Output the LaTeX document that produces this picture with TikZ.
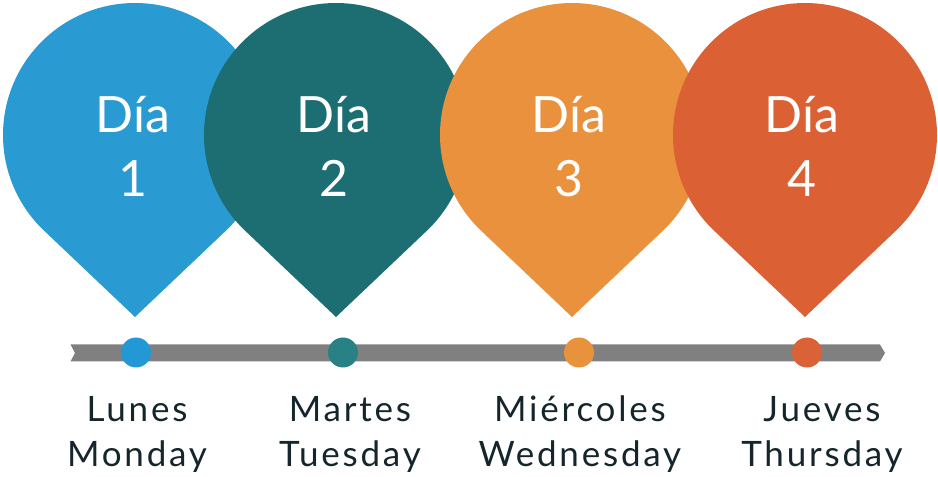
\documentclass[tikz,border=0pt]{standalone}
\usepackage{fontspec}
\setmainfont{Lato}
\newfontfamily\labelfont[LetterSpace=8]{Lato}
\usetikzlibrary{calc}
\definecolor{cblue}{HTML}{2A9AD2}
\definecolor{cteal}{HTML}{1C6E72}
\definecolor{corange}{HTML}{E9913C}
\definecolor{cred}{HTML}{DB6134}
\definecolor{dblue}{HTML}{2298D4}
\definecolor{dteal}{HTML}{288184}
\definecolor{dorange}{HTML}{E9923C}
\definecolor{dred}{HTML}{DA6236}
\definecolor{bargray}{HTML}{808080}
\definecolor{labeltext}{HTML}{15252C}
\tikzset{
  pintext/.style={text=white, font=\fontsize{50}{60}\selectfont, anchor=base, inner sep=0pt},
  daylabel/.style={text=labeltext, font=\labelfont\fontsize{35}{42}\selectfont, anchor=base, inner sep=0pt},
  dot/.style={circle, minimum size=30pt, inner sep=0pt},
}
\newcommand{\pinshape}[2]{%
  \fill[#2] (#1,160) -- ($(#1,342)+(226.5:132)$) arc[start angle=226.5, end angle=-46.5, radius=132] -- cycle;}
\begin{document}
\begin{tikzpicture}[x=1pt,y=1pt]
\useasboundingbox (0,0) rectangle (938,477);
% pins
\pinshape{135}{cblue}
\pinshape{336}{cteal}
\pinshape{572}{corange}
\pinshape{805}{cred}
% pin texts
\node[pintext] (d1) at (133,344) {Día};
\node[pintext] (n1) at (133,280) {1};
\node[pintext] (d2) at (334,344) {Día};
\node[pintext] (n2) at (334,280) {2};
\node[pintext] (d3) at (569,344) {Día};
\node[pintext] (n3) at (569,280) {3};
\node[pintext] (d4) at (802,344) {Día};
\node[pintext] (n4) at (802,280) {4};
% timeline bar
\fill[bargray] (70.5,132.5) -- (880,132.5) -- (885,124) -- (880,115.5) -- (70.5,115.5) -- (75,124) -- cycle;
% dots
\node[dot, fill=dblue] (p1) at (136,124.5) {};
\node[dot, fill=dteal] (p2) at (343,124.5) {};
\node[dot, fill=dorange] (p3) at (579,124.5) {};
\node[dot, fill=dred] (p4) at (807,124.5) {};
% labels
\node[daylabel] (l1a) at (137,55) {Lunes};
\node[daylabel] (l1b) at (137,10) {Monday};
\node[daylabel] (l2a) at (350,55) {Martes};
\node[daylabel] (l2b) at (350,10) {Tuesday};
\node[daylabel] (l3a) at (580,55) {Miércoles};
\node[daylabel] (l3b) at (580,10) {Wednesday};
\node[daylabel] (l4a) at (822,55) {Jueves};
\node[daylabel] (l4b) at (822,10) {Thursday};
\end{tikzpicture}
\end{document}
